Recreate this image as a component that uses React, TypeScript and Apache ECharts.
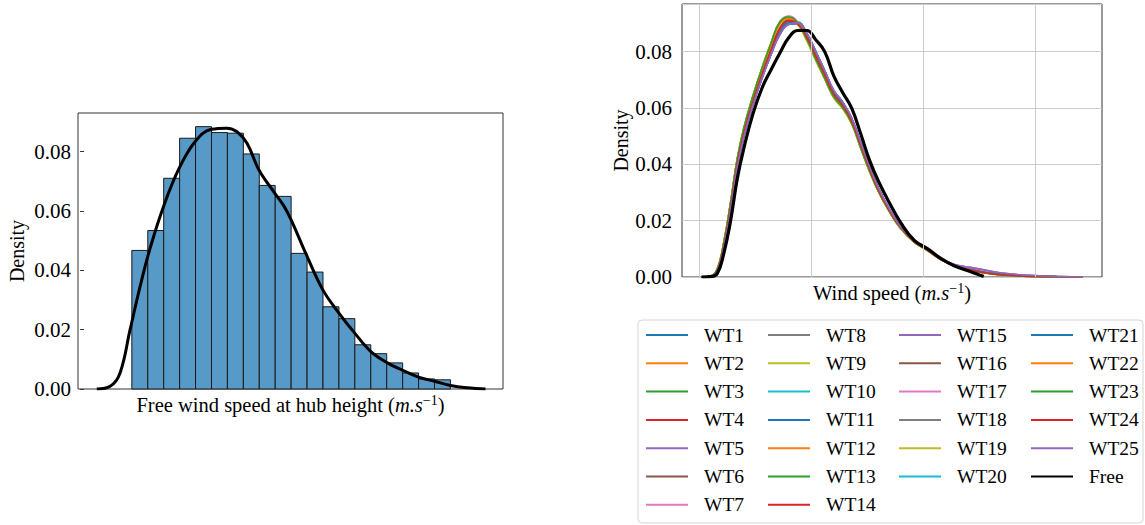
import React, { useEffect, useRef } from "react";
import * as echarts from "echarts";

const FONT = '"Liberation Serif", "Times New Roman", serif';

// ---------- Left chart: histogram + KDE of free wind speed ----------
const BIN_EDGES = [3, 4, 5, 6, 7, 8, 9, 10, 11, 12, 13, 14, 15, 16, 17, 18, 19, 20, 21, 22, 23];
const HIST = [0.0467, 0.0534, 0.071, 0.0845, 0.0884, 0.0864, 0.0862, 0.0792, 0.0686, 0.0649, 0.0457, 0.0394, 0.0277, 0.0237, 0.0149, 0.0119, 0.0088, 0.0054, 0.0034, 0.0031];
const KDE_X = [0.8, 1.64, 2.26, 2.89, 3.52, 4.15, 4.99, 5.97, 6.98, 7.99, 8.97, 9.6, 10.23, 10.98, 11.97, 12.54, 13.0, 14.0, 14.99, 16.0, 16.98, 17.99, 19.04, 20.0, 21.0, 22.0, 23.0, 24.1, 25.2];
const KDE_Y = [0, 0.0009, 0.0054, 0.02, 0.0346, 0.0475, 0.0615, 0.0744, 0.0834, 0.0875, 0.0879, 0.0867, 0.0828, 0.0738, 0.066, 0.0617, 0.057, 0.0447, 0.0334, 0.0256, 0.0189, 0.0127, 0.0088, 0.0063, 0.004, 0.0026, 0.0012, 0.0004, 0];

// ---------- Right chart: KDE per turbine ----------
const XG = [0.2, 1.0, 1.6, 2.2, 2.8, 3.4, 4.0, 4.8, 5.6, 6.4, 7.2, 8.0, 8.8, 9.6, 10.4, 11.2, 12.0, 12.8, 13.6, 14.4, 15.2, 16.0, 17.0, 18.0, 19.2, 20.4, 21.6, 22.8, 24.0, 25.4, 27.0, 29.5, 32.0, 34.2];
const X_GRID = [0, 10, 20, 30];
const Y_TICKS = [0, 0.02, 0.04, 0.06, 0.08];

const FREE_Y = [0, 0.0001, 0.0012, 0.0085, 0.02, 0.035, 0.046, 0.058, 0.067, 0.0735, 0.0795, 0.085, 0.0875, 0.0875, 0.0842, 0.08, 0.0715, 0.0655, 0.06, 0.051, 0.0415, 0.034, 0.0262, 0.0192, 0.013, 0.01, 0.0065, 0.0039, 0.0022, 0.0002];

const WT1 = [0, 0.0002, 0.002, 0.0106, 0.024, 0.0394, 0.0503, 0.0613, 0.0707, 0.0791, 0.0863, 0.0899, 0.0901, 0.0863, 0.0799, 0.0731, 0.0661, 0.0619, 0.0563, 0.0477, 0.0391, 0.0314, 0.0238, 0.0177, 0.0127, 0.0096, 0.0063, 0.0041, 0.0028, 0.0017, 0.0009, 0.0003, 0.0001, 0];
const WT2 = [0, 0.0002, 0.0024, 0.0115, 0.0251, 0.0406, 0.0516, 0.0626, 0.0721, 0.0807, 0.0884, 0.0912, 0.0899, 0.085, 0.0782, 0.0715, 0.0647, 0.0607, 0.0552, 0.0467, 0.0382, 0.0307, 0.0234, 0.0174, 0.0125, 0.0095, 0.0062, 0.004, 0.0027, 0.0016, 0.0008, 0.0003, 0.0001, 0];
const WT3 = [0, 0.0003, 0.0027, 0.0124, 0.0264, 0.042, 0.053, 0.0642, 0.074, 0.0828, 0.0905, 0.0922, 0.09, 0.0843, 0.0772, 0.0705, 0.0639, 0.06, 0.0546, 0.046, 0.0376, 0.0304, 0.0231, 0.0171, 0.0124, 0.0094, 0.0061, 0.004, 0.0027, 0.0015, 0.0007, 0.0002, 0, 0];
const WT4 = [0, 0.0002, 0.0023, 0.0113, 0.0249, 0.0404, 0.0514, 0.0624, 0.0719, 0.0805, 0.0881, 0.0909, 0.0898, 0.0852, 0.0786, 0.0719, 0.065, 0.061, 0.0555, 0.047, 0.0385, 0.0309, 0.0235, 0.0175, 0.0125, 0.0095, 0.0062, 0.004, 0.0027, 0.0016, 0.0008, 0.0003, 0.0001, 0];
const WT5 = [0, 0.0002, 0.0019, 0.0104, 0.0237, 0.039, 0.05, 0.061, 0.0704, 0.0788, 0.086, 0.0896, 0.09, 0.0864, 0.08, 0.0732, 0.0662, 0.062, 0.0564, 0.0478, 0.0392, 0.0315, 0.0239, 0.0178, 0.0128, 0.0097, 0.0064, 0.0043, 0.0034, 0.0025, 0.0013, 0.0005, 0.0002, 0];
const WT6 = [0, 0.0002, 0.0022, 0.0112, 0.0248, 0.0403, 0.0513, 0.0623, 0.0718, 0.0804, 0.088, 0.0908, 0.0897, 0.0851, 0.0785, 0.0718, 0.0649, 0.0609, 0.0554, 0.0469, 0.0384, 0.0308, 0.0235, 0.0175, 0.0126, 0.0095, 0.0062, 0.0041, 0.0027, 0.0016, 0.0008, 0.0003, 0.0001, 0];
const WT7 = [0, 0.0003, 0.0026, 0.0123, 0.0263, 0.0419, 0.0529, 0.0641, 0.0739, 0.0827, 0.0906, 0.0925, 0.0903, 0.0846, 0.0775, 0.0707, 0.0641, 0.0602, 0.0548, 0.0462, 0.0378, 0.0305, 0.0232, 0.0172, 0.0124, 0.0094, 0.0061, 0.004, 0.0027, 0.0015, 0.0007, 0.0002, 0, 0];
const WT8 = [0, 0.0002, 0.0021, 0.0107, 0.0241, 0.0395, 0.0505, 0.0615, 0.0709, 0.0793, 0.0866, 0.0901, 0.0902, 0.0862, 0.0797, 0.0729, 0.0659, 0.0617, 0.0561, 0.0475, 0.0389, 0.0313, 0.0237, 0.0176, 0.0127, 0.0096, 0.0063, 0.0041, 0.0028, 0.0017, 0.0009, 0.0003, 0.0001, 0];
const WT9 = [0, 0.0003, 0.0028, 0.0126, 0.0266, 0.0422, 0.0532, 0.0644, 0.0742, 0.083, 0.0906, 0.0921, 0.0897, 0.084, 0.077, 0.0703, 0.0637, 0.0598, 0.0544, 0.0459, 0.0375, 0.0303, 0.023, 0.0171, 0.0123, 0.0094, 0.0061, 0.004, 0.0026, 0.0015, 0.0007, 0.0002, 0, 0];
const WT10 = [0, 0.0002, 0.002, 0.0105, 0.0239, 0.0393, 0.0503, 0.0613, 0.0708, 0.0792, 0.0865, 0.0902, 0.0904, 0.0865, 0.08, 0.0731, 0.0661, 0.0619, 0.0562, 0.0476, 0.039, 0.0314, 0.0238, 0.0177, 0.0127, 0.0096, 0.0063, 0.0041, 0.0028, 0.0017, 0.0009, 0.0003, 0.0001, 0];
const WT11 = [0, 0.0002, 0.002, 0.0104, 0.0238, 0.0392, 0.0502, 0.0612, 0.0706, 0.079, 0.0862, 0.0897, 0.0899, 0.0862, 0.0799, 0.0732, 0.0662, 0.062, 0.0563, 0.0477, 0.0391, 0.0315, 0.0238, 0.0177, 0.0127, 0.0096, 0.0063, 0.0041, 0.0028, 0.0017, 0.0009, 0.0003, 0.0001, 0];
const WT12 = [0, 0.0002, 0.0024, 0.0116, 0.0252, 0.0407, 0.0517, 0.0627, 0.0722, 0.0808, 0.0885, 0.0913, 0.09, 0.085, 0.0781, 0.0714, 0.0646, 0.0606, 0.0551, 0.0466, 0.0381, 0.0306, 0.0233, 0.0174, 0.0125, 0.0095, 0.0062, 0.004, 0.0027, 0.0016, 0.0008, 0.0003, 0.0001, 0];
const WT13 = [0, 0.0003, 0.0027, 0.0125, 0.0265, 0.0421, 0.0531, 0.0643, 0.0741, 0.0829, 0.0904, 0.0919, 0.0898, 0.0842, 0.0773, 0.0706, 0.064, 0.0601, 0.0547, 0.0461, 0.0377, 0.0304, 0.0231, 0.0172, 0.0124, 0.0094, 0.0061, 0.004, 0.0027, 0.0015, 0.0007, 0.0002, 0, 0];
const WT14 = [0, 0.0002, 0.0023, 0.0114, 0.025, 0.0405, 0.0515, 0.0625, 0.072, 0.0806, 0.0883, 0.0911, 0.0899, 0.0851, 0.0784, 0.0717, 0.0648, 0.0608, 0.0553, 0.0468, 0.0383, 0.0308, 0.0234, 0.0174, 0.0125, 0.0095, 0.0062, 0.004, 0.0027, 0.0016, 0.0008, 0.0003, 0.0001, 0];
const WT15 = [0, 0.0002, 0.002, 0.0105, 0.0238, 0.0391, 0.0501, 0.0611, 0.0705, 0.0789, 0.0861, 0.0897, 0.0901, 0.0865, 0.0801, 0.0733, 0.0663, 0.0621, 0.0565, 0.0479, 0.0393, 0.0316, 0.024, 0.0178, 0.0128, 0.0097, 0.0064, 0.0044, 0.0035, 0.0026, 0.0014, 0.0006, 0.0002, 0];
const WT16 = [0, 0.0002, 0.0022, 0.0113, 0.0249, 0.0404, 0.0514, 0.0624, 0.0719, 0.0805, 0.0882, 0.091, 0.0898, 0.0852, 0.0785, 0.0718, 0.0649, 0.0609, 0.0554, 0.0469, 0.0384, 0.0308, 0.0234, 0.0175, 0.0125, 0.0095, 0.0062, 0.004, 0.0027, 0.0016, 0.0008, 0.0003, 0.0001, 0];
const WT17 = [0, 0.0003, 0.0026, 0.0122, 0.0262, 0.0418, 0.0528, 0.064, 0.0738, 0.0826, 0.0905, 0.0926, 0.0905, 0.0848, 0.0777, 0.0709, 0.0643, 0.0604, 0.0549, 0.0463, 0.0379, 0.0306, 0.0232, 0.0172, 0.0124, 0.0094, 0.0061, 0.004, 0.0027, 0.0015, 0.0007, 0.0002, 0, 0];
const WT18 = [0, 0.0002, 0.0021, 0.0106, 0.024, 0.0394, 0.0504, 0.0614, 0.0708, 0.0792, 0.0864, 0.09, 0.0901, 0.0863, 0.0798, 0.073, 0.066, 0.0618, 0.0562, 0.0476, 0.039, 0.0314, 0.0238, 0.0177, 0.0127, 0.0096, 0.0063, 0.0041, 0.0028, 0.0017, 0.0009, 0.0003, 0.0001, 0];
const WT19 = [0, 0.0003, 0.0028, 0.0127, 0.0267, 0.0423, 0.0533, 0.0645, 0.0743, 0.0831, 0.0907, 0.0922, 0.0896, 0.0838, 0.0768, 0.0702, 0.0636, 0.0597, 0.0543, 0.0458, 0.0374, 0.0302, 0.023, 0.0171, 0.0123, 0.0093, 0.0061, 0.004, 0.0026, 0.0015, 0.0007, 0.0002, 0, 0];
const WT20 = [0, 0.0002, 0.002, 0.0105, 0.0239, 0.0393, 0.0503, 0.0613, 0.0707, 0.0791, 0.0864, 0.0903, 0.0905, 0.0866, 0.0801, 0.0732, 0.0662, 0.062, 0.0563, 0.0477, 0.0391, 0.0315, 0.0238, 0.0177, 0.0127, 0.0096, 0.0063, 0.0041, 0.0028, 0.0017, 0.0009, 0.0003, 0.0001, 0];
const WT21 = [0, 0.0002, 0.0021, 0.0107, 0.0241, 0.0395, 0.0505, 0.0615, 0.0709, 0.0793, 0.0866, 0.0902, 0.0903, 0.0864, 0.0799, 0.073, 0.066, 0.0618, 0.0562, 0.0476, 0.039, 0.0314, 0.0238, 0.0177, 0.0127, 0.0096, 0.0063, 0.0041, 0.0028, 0.0017, 0.0009, 0.0003, 0.0001, 0];
const WT22 = [0, 0.0003, 0.0025, 0.012, 0.0259, 0.0415, 0.0525, 0.0636, 0.0733, 0.082, 0.0898, 0.0918, 0.0902, 0.0848, 0.0778, 0.0711, 0.0645, 0.0605, 0.055, 0.0465, 0.038, 0.0306, 0.0233, 0.0173, 0.0124, 0.0094, 0.0061, 0.004, 0.0027, 0.0015, 0.0007, 0.0002, 0, 0];
const WT23 = [0, 0.0003, 0.0027, 0.0124, 0.0264, 0.042, 0.053, 0.0642, 0.074, 0.0828, 0.0905, 0.0923, 0.0901, 0.0844, 0.0774, 0.0706, 0.064, 0.0601, 0.0547, 0.0461, 0.0377, 0.0304, 0.0231, 0.0172, 0.0124, 0.0094, 0.0061, 0.004, 0.0027, 0.0015, 0.0007, 0.0002, 0, 0];
const WT24 = [0, 0.0002, 0.0023, 0.0113, 0.0249, 0.0404, 0.0514, 0.0624, 0.0719, 0.0805, 0.0881, 0.0909, 0.0898, 0.0851, 0.0784, 0.0718, 0.0649, 0.0609, 0.0554, 0.0469, 0.0384, 0.0308, 0.0234, 0.0175, 0.0125, 0.0095, 0.0062, 0.004, 0.0027, 0.0016, 0.0008, 0.0003, 0.0001, 0];
const WT25 = [0, 0.0002, 0.0019, 0.0104, 0.0237, 0.0391, 0.0501, 0.0611, 0.0705, 0.0789, 0.0861, 0.0898, 0.0902, 0.0866, 0.0802, 0.0733, 0.0663, 0.0621, 0.0565, 0.0479, 0.0393, 0.0316, 0.024, 0.0178, 0.0128, 0.0097, 0.0064, 0.0044, 0.0035, 0.0026, 0.0014, 0.0006, 0.0002, 0];

const WT_NAMES = ["WT1", "WT2", "WT3", "WT4", "WT5", "WT6", "WT7", "WT8", "WT9", "WT10", "WT11", "WT12", "WT13", "WT14", "WT15", "WT16", "WT17", "WT18", "WT19", "WT20", "WT21", "WT22", "WT23", "WT24", "WT25"];
const WT_Y = [WT1, WT2, WT3, WT4, WT5, WT6, WT7, WT8, WT9, WT10, WT11, WT12, WT13, WT14, WT15, WT16, WT17, WT18, WT19, WT20, WT21, WT22, WT23, WT24, WT25];
const TAB10 = ["#1f77b4", "#ff7f0e", "#2ca02c", "#d62728", "#9467bd", "#8c564b", "#e377c2", "#7f7f7f", "#bcbd22", "#17becf"];

const LEGEND_COLS = [
  ["WT1", "WT2", "WT3", "WT4", "WT5", "WT6", "WT7"],
  ["WT8", "WT9", "WT10", "WT11", "WT12", "WT13", "WT14"],
  ["WT15", "WT16", "WT17", "WT18", "WT19", "WT20"],
  ["WT21", "WT22", "WT23", "WT24", "WT25", "Free"],
];
const LEGEND_LEFT = [645, 767, 898, 1030];

function nameRich() {
  return {
    fontFamily: FONT,
    fontSize: 20.5,
    color: "#000",
    rich: {
      a: { fontFamily: FONT, fontSize: 20.5, color: "#000", lineHeight: 24 },
      b: { fontFamily: FONT, fontSize: 20.5, color: "#000", fontStyle: "italic", lineHeight: 24 },
      c: { fontFamily: FONT, fontSize: 14, color: "#000", verticalAlign: "top", lineHeight: 24, padding: [0, 0, 10, 0] },
    },
  };
}

export default function App() {
  const ref = useRef<HTMLDivElement>(null);
  useEffect(() => {
    if (!ref.current) return;
    const chart = echarts.init(ref.current, null, { renderer: "svg" });

    const series: any[] = [];
    // histogram
    series.push({
      type: "custom",
      name: "hist",
      xAxisIndex: 0,
      yAxisIndex: 0,
      silent: true,
      data: HIST.map((h, i) => [BIN_EDGES[i], BIN_EDGES[i + 1], h]),
      encode: { x: [0, 1], y: 2 },
      renderItem: (params: any, api: any) => {
        const p0 = api.coord([api.value(0), api.value(2)]);
        const p1 = api.coord([api.value(1), 0]);
        return {
          type: "rect",
          shape: { x: p0[0], y: p0[1], width: p1[0] - p0[0], height: p1[1] - p0[1] },
          style: { fill: "#5799c7", stroke: "#1a1a1a", lineWidth: 1 },
        };
      },
      z: 2,
    });
    series.push({
      type: "line",
      name: "kde",
      xAxisIndex: 0,
      yAxisIndex: 0,
      data: KDE_X.map((x, i) => [x, KDE_Y[i]]),
      smooth: 0.4,
      symbol: "none",
      lineStyle: { color: "#000", width: 3 },
      silent: true,
      z: 3,
    });
    // vertical grid lines (right)
    series.push({
      type: "line",
      name: "grid",
      xAxisIndex: 1,
      yAxisIndex: 1,
      data: [[0, 0]],
      symbol: "none",
      lineStyle: { opacity: 0 },
      silent: true,
      z: 1,
      markLine: {
        silent: true,
        symbol: ["none", "none"],
        label: { show: false },
        lineStyle: { color: "#cccccc", width: 1, type: "solid" },
        emphasis: { disabled: true },
        data: X_GRID.map((v) => ({ xAxis: v })),
      },
    });
    WT_NAMES.forEach((name, i) => {
      const color = TAB10[i % 10];
      series.push({
        type: "line",
        name,
        xAxisIndex: 1,
        yAxisIndex: 1,
        data: XG.map((x, j) => [x, WT_Y[i][j]]),
        smooth: 0.45,
        symbol: "none",
        lineStyle: { color, width: 1.6 },
        itemStyle: { color },
        silent: true,
        z: 3,
      });
    });
    series.push({
      type: "line",
      name: "Free",
      xAxisIndex: 1,
      yAxisIndex: 1,
      data: FREE_Y.map((y, j) => [XG[j], y]),
      smooth: 0.45,
      symbol: "none",
      lineStyle: { color: "#000", width: 3.2 },
      itemStyle: { color: "#000" },
      silent: true,
      z: 4,
    });

    const yAxisBase = (max: number, withTicks: boolean, grid: boolean, margin: number, idx: number) => ({
      type: "value",
      gridIndex: idx,
      min: 0,
      max,
      interval: 0.02,
      name: "Density",
      nameLocation: "middle",
      nameGap: 51,
      nameTextStyle: { fontFamily: FONT, fontSize: 20, color: "#000" },
      axisLine: { show: false },
      axisTick: { show: withTicks, length: 4, lineStyle: { color: "#333" } },
      axisLabel: {
        showMaxLabel: false,
        fontFamily: FONT,
        fontSize: 21,
        color: "#000",
        margin,
        formatter: (v: number) => (Y_TICKS.some((t) => Math.abs(t - v) < 1e-9) ? v.toFixed(2) : ""),
      },
      splitLine: { show: grid, lineStyle: { color: "#cccccc", width: 1 } },
    });

    chart.setOption({
      animation: false,
      backgroundColor: "#fff",
      grid: [
        { left: 78, top: 113, right: 642, bottom: 136, show: true, borderColor: "#333", borderWidth: 1, backgroundColor: "transparent" },
        { left: 682, top: 4, right: 43, bottom: 248, show: true, borderColor: "#333", borderWidth: 1, backgroundColor: "transparent" },
      ],
      xAxis: [
        {
          type: "value",
          gridIndex: 0,
          min: -0.38,
          max: 26.3,
          axisLine: { show: false },
          axisTick: { show: false },
          axisLabel: { show: false },
          splitLine: { show: false },
          name: "{a|Free wind speed at hub height (}{b|m.s}{c|−1}{a|)}",
          nameLocation: "middle",
          nameGap: 4,
          nameTextStyle: nameRich(),
        },
        {
          type: "value",
          gridIndex: 1,
          min: -1.54,
          max: 35.96,
          axisLine: { show: false },
          axisTick: { show: false },
          axisLabel: { show: false },
          splitLine: { show: false },
          name: "{a|Wind speed (}{b|m.s}{c|−1}{a|)}",
          nameLocation: "middle",
          nameGap: 4,
          nameTextStyle: nameRich(),
        },
      ],
      yAxis: [yAxisBase(0.093, true, false, 7, 0), yAxisBase(0.0969, false, true, 10, 1)],
      legend: LEGEND_COLS.map((names, i) => ({
        data: names,
        orient: "vertical",
        left: LEGEND_LEFT[i],
        top: 325,
        itemWidth: 42,
        itemHeight: 20,
        itemGap: 8.3,
        padding: 0,
        selectedMode: false,
        itemStyle: { opacity: 0 },
        textStyle: { fontFamily: FONT, fontSize: 19.5, lineHeight: 20, color: "#000", padding: [0, 0, 0, 11] },
      })),
      graphic: [
        {
          type: "rect",
          z: 0,
          shape: { x: 638, y: 320, width: 505, height: 203, r: 4 },
          style: { fill: "#fff", stroke: "#d5d5d5", lineWidth: 1 },
        },
      ],
      series,
    });
    return () => chart.dispose();
  }, []);
  return <div ref={ref} style={{ position: "fixed", left: 0, top: 0, width: 1145, height: 525 }} />;
}
